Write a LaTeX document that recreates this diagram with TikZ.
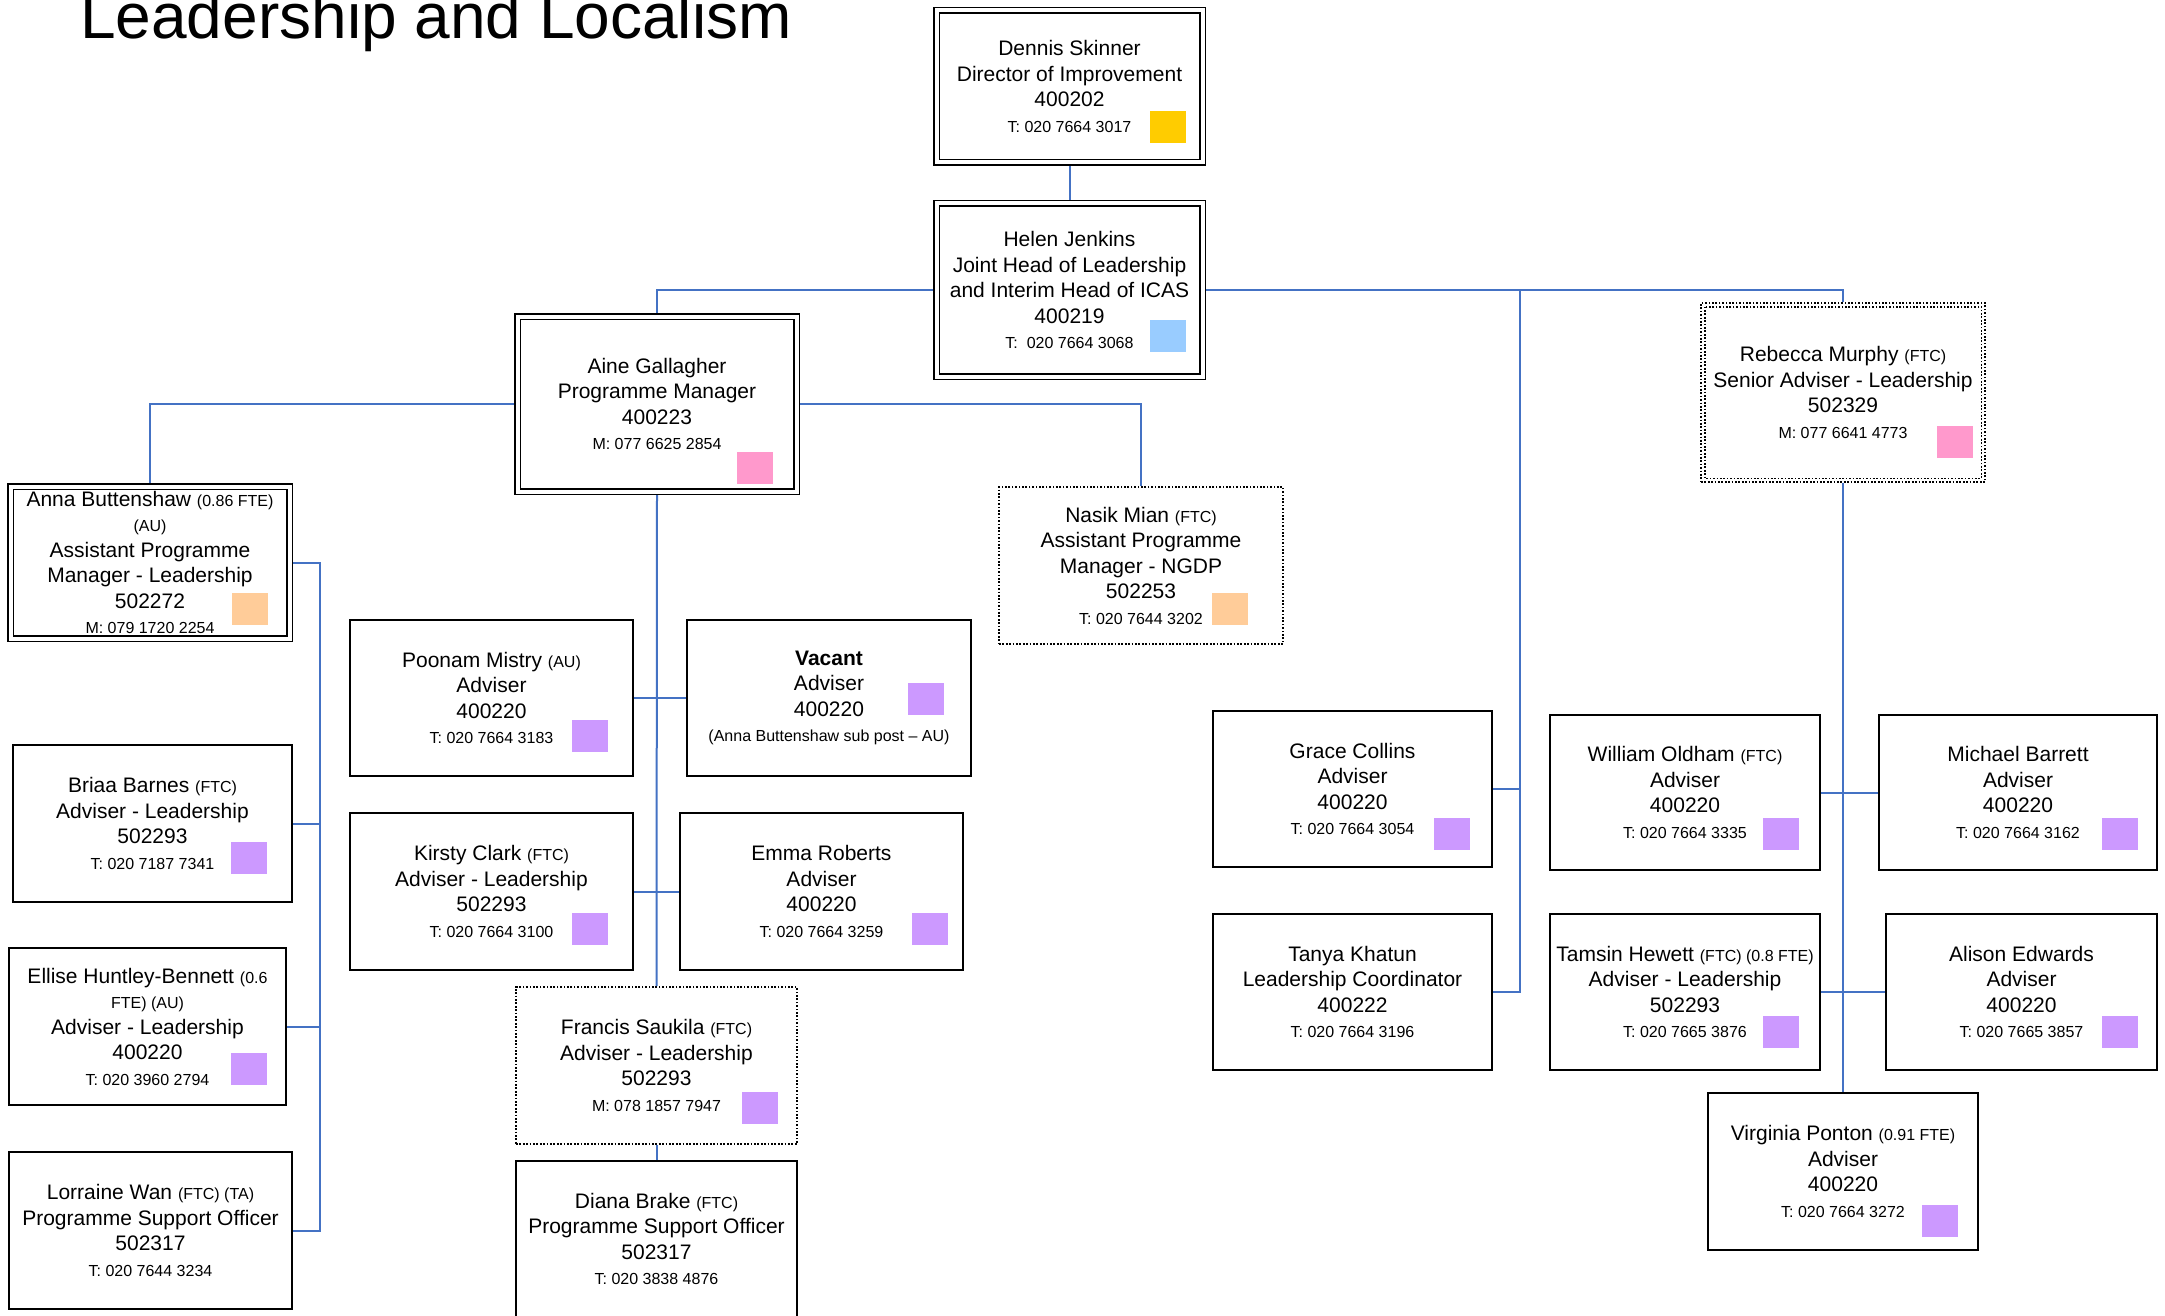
\documentclass[tikz,border=0pt]{standalone}
\usepackage{fontspec}
\setmainfont{Liberation Sans}
\usetikzlibrary{backgrounds}
\definecolor{cYel}{HTML}{FFCC00}
\definecolor{cBlue}{HTML}{99CCFF}
\definecolor{cPink}{HTML}{FF99CC}
\definecolor{cPeach}{HTML}{FFCC99}
\definecolor{cLav}{HTML}{CC99FF}
\definecolor{cLine}{HTML}{4472C4}
\newcommand\smt[1]{{\fontsize{16}{19}\selectfont #1}}
\tikzset{
  org/.style={draw=black, line width=1.9pt, fill=white, align=center, inner sep=0pt,
              font=\fontsize{21}{25.5}\selectfont},
  orgdouble/.style={org, double=white, double distance=4pt, line width=1.6pt},
  orgdot/.style={org, line width=1.7pt, dash pattern=on 1.7pt off 1.7pt},
  boxsize/.style 2 args={minimum width=#1pt, minimum height=#2pt},
  conn/.style={draw=cLine, line width=2pt},
  colsq/.style={fill=#1, draw=none, minimum width=36pt, minimum height=32pt, inner sep=0pt, anchor=south east},
  dotinner/.style={draw=black, line width=1.7pt, dash pattern=on 1.7pt off 1.7pt},
}
\begin{document}
\begin{tikzpicture}[x=1pt,y=-1pt]
\useasboundingbox (0,0) rectangle (2165,1316);

\node[anchor=base west, inner sep=0pt, font=\fontsize{64}{72}\selectfont] (title) at (80,39) {Leadership and Localism};

% top
\node[orgdouble, boxsize={266}{152}] (dennis) at (1069.5,86.5)
  {Dennis Skinner\\Director of Improvement\\400202\\\smt{T: 020 7664 3017}};
\node[orgdouble, boxsize={266}{173}] (helen) at (1069.5,290)
  {Helen Jenkins\\Joint Head of Leadership\\and Interim Head of ICAS\\400219\\\smt{T:\ \ 020 7664 3068}};
\node[orgdouble, boxsize={279}{175}] (aine) at (657,404)
  {Aine Gallagher\\Programme Manager\\400223\\\smt{M: 077 6625 2854}};
\node[orgdot, boxsize={284}{179}] (rebecca) at (1843,392.5)
  {Rebecca Murphy \smt{(FTC)}\\Senior Adviser - Leadership\\502329\\\smt{M: 077 6641 4773}};
\draw[dotinner] ([xshift=4.5pt,yshift=-4.5pt]rebecca.north west) rectangle ([xshift=-4.5pt,yshift=4.5pt]rebecca.south east);

% second level
\node[orgdouble, boxsize={279}{152}] (anna) at (150,562.5)
  {Anna Buttenshaw \smt{(0.86 FTE)}\\\smt{(AU)}\\Assistant Programme\\Manager - Leadership\\502272\\\smt{M: 079 1720 2254}};
\node[orgdot, boxsize={284}{157}] (nasik) at (1141,565.5)
  {Nasik Mian \smt{(FTC)}\\Assistant Programme\\Manager - NGDP\\502253\\\smt{T: 020 7644 3202}};

% centre column
\node[org, boxsize={283}{156}] (poonam) at (491.5,698)
  {Poonam Mistry \smt{(AU)}\\Adviser\\400220\\\smt{T: 020 7664 3183}};
\node[org, boxsize={284}{156}] (vacant) at (829,698)
  {\textbf{Vacant}\\Adviser\\400220\\\smt{(Anna Buttenshaw sub post – AU)}};
\node[org, boxsize={283}{157}] (kirsty) at (491.5,891.5)
  {Kirsty Clark \smt{(FTC)}\\Adviser - Leadership\\502293\\\smt{T: 020 7664 3100}};
\node[org, boxsize={283}{157}] (emma) at (821.5,891.5)
  {Emma Roberts\\Adviser\\400220\\\smt{T: 020 7664 3259}};
\node[orgdot, boxsize={281}{157}] (francis) at (656.5,1065.5)
  {Francis Saukila \smt{(FTC)}\\Adviser - Leadership\\502293\\\smt{M: 078 1857 7947}};
\node[org, boxsize={281}{156}] (diana) at (656.5,1239)
  {Diana Brake \smt{(FTC)}\\Programme Support Officer\\502317\\\smt{T: 020 3838 4876}};

% left column
\node[org, boxsize={279}{157}] (briaa) at (152.5,823.5)
  {Briaa Barnes \smt{(FTC)}\\Adviser - Leadership\\502293\\\smt{T: 020 7187 7341}};
\node[org, boxsize={277}{157}] (ellise) at (147.5,1026.5)
  {Ellise Huntley-Bennett \smt{(0.6}\\\smt{FTE) (AU)}\\Adviser - Leadership\\400220\\\smt{T: 020 3960 2794}};
\node[org, boxsize={283}{157}] (lorraine) at (150.5,1230.5)
  {Lorraine Wan \smt{(FTC) (TA)}\\Programme Support Officer\\502317\\\smt{T: 020 7644 3234}};

% right middle
\node[org, boxsize={279}{156}] (grace) at (1352.5,789)
  {Grace Collins\\Adviser\\400220\\\smt{T: 020 7664 3054}};
\node[org, boxsize={279}{156}] (tanya) at (1352.5,992)
  {Tanya Khatun\\Leadership Coordinator\\400222\\\smt{T: 020 7664 3196}};

% right
\node[org, boxsize={270}{155}] (william) at (1685,792.5)
  {William Oldham \smt{(FTC)}\\Adviser\\400220\\\smt{T: 020 7664 3335}};
\node[org, boxsize={278}{155}] (michael) at (2018,792.5)
  {Michael Barrett\\Adviser\\400220\\\smt{T: 020 7664 3162}};
\node[org, boxsize={270}{156}] (tamsin) at (1685,992)
  {Tamsin Hewett \smt{(FTC) (0.8 FTE)}\\Adviser - Leadership\\502293\\\smt{T: 020 7665 3876}};
\node[org, boxsize={271}{156}] (alison) at (2021.5,992)
  {Alison Edwards\\Adviser\\400220\\\smt{T: 020 7665 3857}};
\node[org, boxsize={270}{157}] (virginia) at (1843,1171.5)
  {Virginia Ponton \smt{(0.91 FTE)}\\Adviser\\400220\\\smt{T: 020 7664 3272}};

% colour squares
\node[colsq=cYel]   (sqDennis)   at ([xshift=-17.5pt,yshift=20.5pt]dennis.south east) {};
\node[colsq=cBlue]  (sqHelen)    at ([xshift=-17.5pt,yshift=25.5pt]helen.south east) {};
\node[colsq=cPink]  (sqAine)     at ([xshift=-24.5pt,yshift=8.5pt]aine.south east) {};
\node[colsq=cPink]  (sqRebecca)  at ([xshift=-13pt,yshift=25pt]rebecca.south east) {};
\node[colsq=cPeach] (sqAnna)     at ([xshift=-22.5pt,yshift=14.5pt]anna.south east) {};
\node[colsq=cPeach] (sqNasik)    at ([xshift=-36pt,yshift=20pt]nasik.south east) {};
\node[colsq=cLav]   (sqPoonam)   at ([xshift=-26pt,yshift=25pt]poonam.south east) {};
\node[colsq=cLav]   (sqVacant)   at ([xshift=-28pt,yshift=62pt]vacant.south east) {};
\node[colsq=cLav]   (sqKirsty)   at ([xshift=-26pt,yshift=26pt]kirsty.south east) {};
\node[colsq=cLav]   (sqEmma)     at ([xshift=-16pt,yshift=26pt]emma.south east) {};
\node[colsq=cLav]   (sqFrancis)  at ([xshift=-20pt,yshift=21pt]francis.south east) {};
\node[colsq=cLav]   (sqBriaa)    at ([xshift=-26pt,yshift=29pt]briaa.south east) {};
\node[colsq=cLav]   (sqEllise)   at ([xshift=-20pt,yshift=21pt]ellise.south east) {};
\node[colsq=cLav]   (sqGrace)    at ([xshift=-23pt,yshift=18pt]grace.south east) {};
\node[colsq=cLav]   (sqWilliam)  at ([xshift=-22pt,yshift=21pt]william.south east) {};
\node[colsq=cLav]   (sqMichael)  at ([xshift=-20pt,yshift=21pt]michael.south east) {};
\node[colsq=cLav]   (sqTamsin)   at ([xshift=-22pt,yshift=23pt]tamsin.south east) {};
\node[colsq=cLav]   (sqAlison)   at ([xshift=-20pt,yshift=23pt]alison.south east) {};
\node[colsq=cLav]   (sqVirginia) at ([xshift=-21pt,yshift=14pt]virginia.south east) {};

% connectors
\coordinate (gtTrunk) at (1520,290);
\coordinate (leftTrunk) at (320,562.5);
\begin{scope}[on background layer]
  \draw[conn] (dennis.south) -- (helen.north);
  \draw[conn] (helen.west) -| (aine.north);
  \draw[conn] (helen.east) -| (rebecca.north);
  \draw[conn] (helen.east -| gtTrunk) |- (tanya.east);
  \draw[conn] (grace.east) -- (grace.east -| gtTrunk);
  \draw[conn] (aine.west) -| (anna.north);
  \draw[conn] (aine.east) -| (nasik.north);
  \draw[conn] (aine.south) -- (francis.north);
  \draw[conn] (poonam.east) -- (vacant.west);
  \draw[conn] (kirsty.east) -- (emma.west);
  \draw[conn] (francis.south) -- (diana.north);
  \draw[conn] (anna.east) -- (leftTrunk) |- (lorraine.east);
  \draw[conn] (briaa.east) -- (briaa.east -| leftTrunk);
  \draw[conn] (ellise.east) -- (ellise.east -| leftTrunk);
  \draw[conn] (rebecca.south) -- (virginia.north);
  \draw[conn] (william.east) -- (michael.west);
  \draw[conn] (tamsin.east) -- (alison.west);
\end{scope}
\end{tikzpicture}
\end{document}
